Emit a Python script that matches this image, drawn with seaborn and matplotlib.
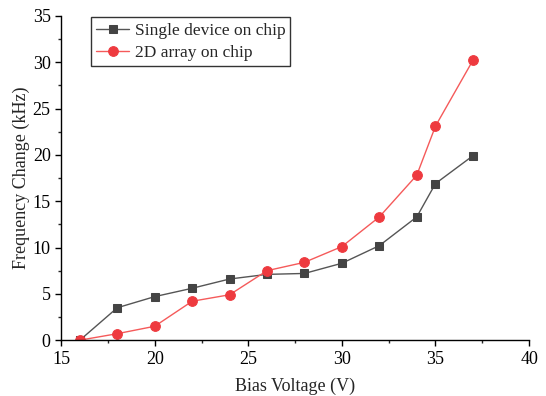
import matplotlib
matplotlib.use("Agg")
import matplotlib.pyplot as plt
import seaborn as sns
import pandas as pd
from matplotlib.ticker import MultipleLocator

# data
voltage = [16, 18, 20, 22, 24, 26, 28, 30, 32, 34, 35, 37]
single_device = [0, 3.5, 4.7, 5.6, 6.6, 7.1, 7.2, 8.3, 10.2, 13.3, 16.9, 19.9]
array_2d = [0, 0.7, 1.5, 4.2, 4.9, 7.5, 8.4, 10.1, 13.3, 17.8, 23.1, 30.2]

sns.set_style("ticks")
plt.rcParams["font.family"] = ["Liberation Serif", "DejaVu Serif"]

df = pd.DataFrame({"V": voltage, "single": single_device, "array": array_2d})

fig = plt.figure(figsize=(5.46, 3.96), dpi=100)
ax = fig.add_axes([0.112, 0.141, 0.857, 0.819])

sns.lineplot(data=df, x="V", y="single", ax=ax, color="#555555", lw=1,
             marker="s", markersize=6, markerfacecolor="#444444",
             markeredgecolor="#444444", label="Single device on chip")
sns.lineplot(data=df, x="V", y="array", ax=ax, color="#f55a5a", lw=1,
             marker="o", markersize=7, markerfacecolor="#ee3a3f",
             markeredgecolor="#ee3a3f", label="2D array on chip")

ax.set_xlim(15, 40)
ax.set_ylim(0, 35)
ax.xaxis.set_major_locator(MultipleLocator(5))
ax.xaxis.set_minor_locator(MultipleLocator(2.5))
ax.yaxis.set_major_locator(MultipleLocator(5))
ax.yaxis.set_minor_locator(MultipleLocator(2.5))
ax.tick_params(which="major", direction="out", length=4, width=1, labelsize=13, colors="black")
ax.tick_params(which="minor", direction="out", length=2, width=1)
for s in ["top", "right"]:
    ax.spines[s].set_visible(False)
for s in ["left", "bottom"]:
    ax.spines[s].set_color("black")
    ax.spines[s].set_linewidth(1)

ax.set_xlabel("Bias Voltage (V)", fontsize=13, labelpad=7)
ax.set_ylabel("Frequency Change (kHz)", fontsize=13, labelpad=2)

leg = ax.legend(loc="upper left", bbox_to_anchor=(0.064, 0.995), fontsize=12.5,
                frameon=True, fancybox=False, edgecolor="black",
                borderpad=0.3, labelspacing=0.35, handlelength=1.9, handletextpad=0.3,
                borderaxespad=0)
leg.get_frame().set_linewidth(1)

fig.savefig("out.png", dpi=100)
